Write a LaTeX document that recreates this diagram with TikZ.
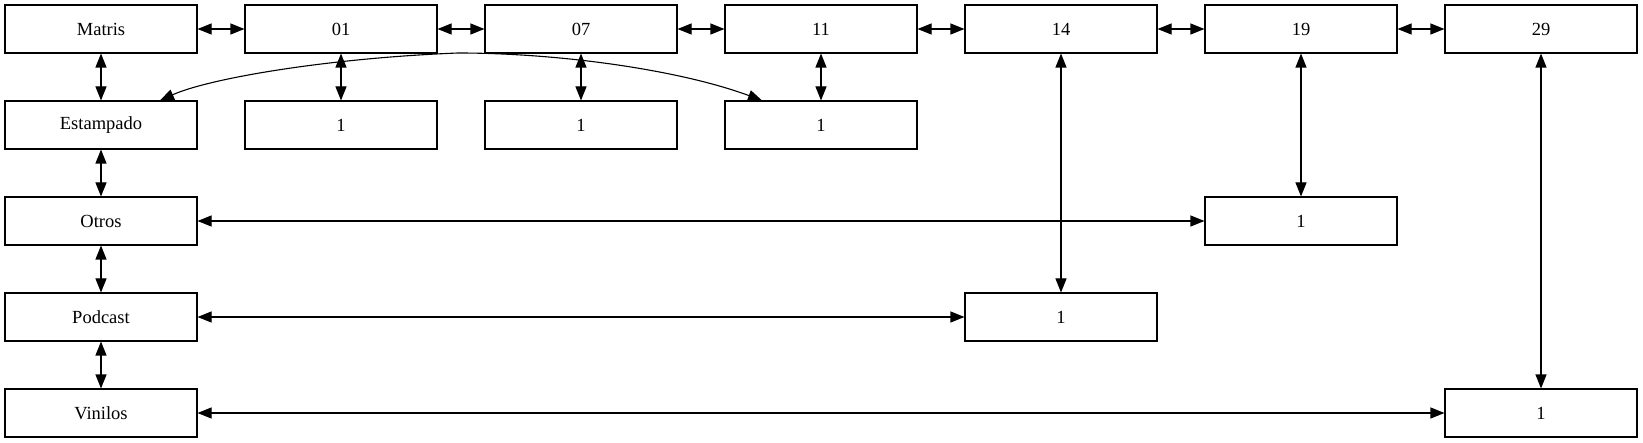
\documentclass[tikz,border=0pt]{standalone}
\usepackage{fontspec}
\setmainfont{Liberation Serif}
\usetikzlibrary{arrows.meta}
\begin{document}
\begin{tikzpicture}[x=1pt,y=-1pt,
  box/.style={draw,line width=1.1pt,minimum width=192pt,minimum height=48pt,inner sep=0pt,
    font=\fontsize{18.5}{22}\selectfont},
  link/.style={line width=1.1pt,{Triangle[length=14pt,width=11pt]}-{Triangle[length=14pt,width=11pt]}}]
\useasboundingbox (0,0) rectangle (1643,443);
% row 1
\node[box] (matris) at (101,29) {Matris};
\node[box] (c01) at (341,29) {01};
\node[box] (c07) at (581,29) {07};
\node[box] (c11) at (821,29) {11};
\node[box] (c14) at (1061,29) {14};
\node[box] (c19) at (1301,29) {19};
\node[box] (c29) at (1541,29) {29};
% left column
\node[box] (estampado) at (101,125) {Estampado};
\node[box] (otros) at (101,221) {Otros};
\node[box] (podcast) at (101,317) {Podcast};
\node[box] (vinilos) at (101,413) {Vinilos};
% value boxes
\node[box] (v01) at (341,125) {1};
\node[box] (v07) at (581,125) {1};
\node[box] (v11) at (821,125) {1};
\node[box] (v19) at (1301,221) {1};
\node[box] (v14) at (1061,317) {1};
\node[box] (v29) at (1541,413) {1};
% horizontal top row
\draw[link] (matris) -- (c01);
\draw[link] (c01) -- (c07);
\draw[link] (c07) -- (c11);
\draw[link] (c11) -- (c14);
\draw[link] (c14) -- (c19);
\draw[link] (c19) -- (c29);
% left column vertical
\draw[link] (matris) -- (estampado);
\draw[link] (estampado) -- (otros);
\draw[link] (otros) -- (podcast);
\draw[link] (podcast) -- (vinilos);
% verticals to value boxes
\draw[link] (c01) -- (v01);
\draw[link] (c07) -- (v07);
\draw[link] (c11) -- (v11);
\draw[link] (c14) -- (v14);
\draw[link] (c19) -- (v19);
\draw[link] (c29) -- (v29);
% horizontals to value boxes
\draw[link] (otros) -- (v19);
\draw[link] (podcast) -- (v14);
\draw[link] (vinilos) -- (v29);
% curved link
\coordinate (top) at (458,53);
\draw[link] ([xshift=59pt]estampado.north) .. controls (210,78) and (330,58) .. (top)
  .. controls (560,53) and (680,70) .. ([xshift=-59pt]v11.north);
\end{tikzpicture}
\end{document}
